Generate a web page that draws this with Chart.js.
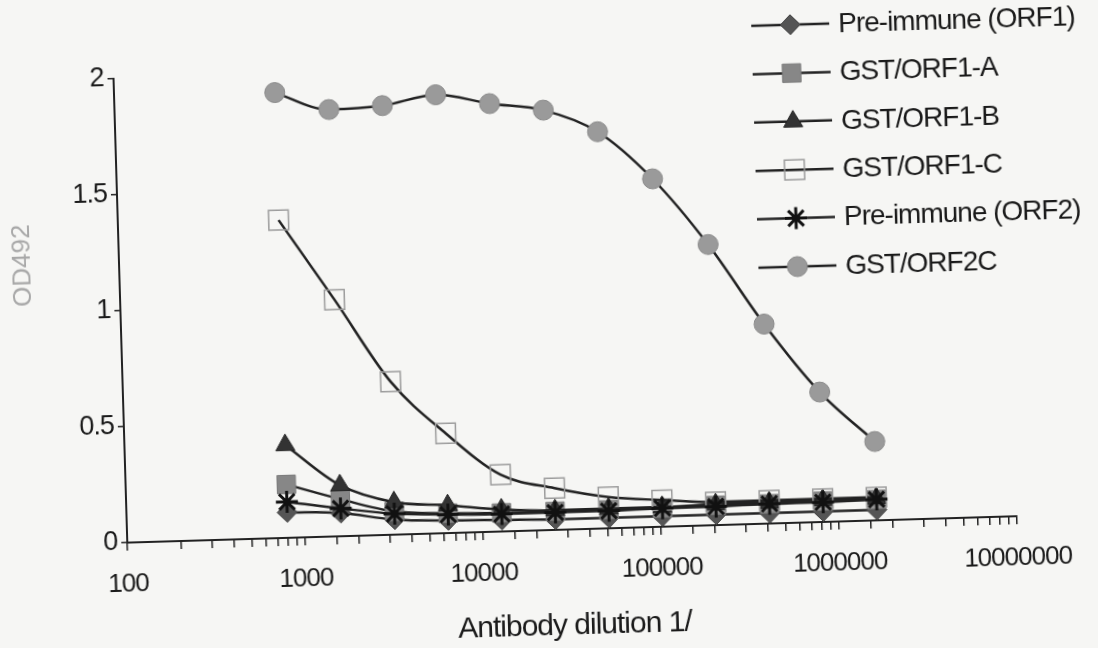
<!DOCTYPE html>
<html>
<head>
<meta charset="utf-8">
<script src="https://cdn.jsdelivr.net/npm/chart.js@4.4.1/dist/chart.umd.min.js"></script>
<style>
  html, body { margin: 0; padding: 0; background: #f6f6f4; overflow: hidden; }
  /* the original is a slightly tilted scan */
  #chart { display: block; transform: rotate(-1.7deg); transform-origin: 549px 324px; }
</style>
</head>
<body>
<canvas id="chart" width="1098" height="648"></canvas>
<script>
// antibody dilution (1/x)
const dilutions = [800, 1600, 3200, 6400, 12800, 25600, 51200, 102400, 204800, 409600, 819200, 1638400];

const seriesNames = ['Pre-immune (ORF1)', 'GST/ORF1-A', 'GST/ORF1-B', 'GST/ORF1-C', 'Pre-immune (ORF2)', 'GST/ORF2C'];

// OD492 readings
const preImmuneOrf1 = [0.11, 0.10, 0.065, 0.055, 0.05, 0.045, 0.045, 0.045, 0.045, 0.045, 0.045, 0.045];
const gstOrf1A = [0.23, 0.16, 0.10, 0.085, 0.08, 0.08, 0.08, 0.08, 0.085, 0.085, 0.09, 0.09];
const gstOrf1B = [0.40, 0.22, 0.14, 0.12, 0.095, 0.085, 0.085, 0.085, 0.09, 0.09, 0.095, 0.095];
const gstOrf1C = [1.37, 1.02, 0.66, 0.43, 0.245, 0.18, 0.135, 0.115, 0.10, 0.10, 0.10, 0.10];
const preImmuneOrf2 = [0.155, 0.12, 0.09, 0.08, 0.075, 0.075, 0.075, 0.08, 0.08, 0.085, 0.085, 0.09];
const gstOrf2C = [1.92, 1.84, 1.85, 1.89, 1.845, 1.81, 1.71, 1.50, 1.21, 0.86, 0.56, 0.34];

const xTickLabels = ['100', '1000', '10000', '100000', '1000000', '10000000'];
const yTickLabels = ['0', '0.5', '1', '1.5', '2'];

const allSeries = [preImmuneOrf1, gstOrf1A, gstOrf1B, gstOrf1C, preImmuneOrf2, gstOrf2C];

// marker look for each series
const markers = [
    { style: 'rectRot', radius: 10, fill: '#555555', stroke: '#454545', width: 1 },
    { style: 'rect', radius: 13, fill: '#878787', stroke: '#7a7a7a', width: 1 },
    { style: 'triangle', radius: 11, fill: '#333333', stroke: '#262626', width: 1 },
    { style: 'rect', radius: 14, fill: 'rgba(0,0,0,0)', stroke: '#9c9c9c', width: 1.5 },
    { style: 'star', radius: 11, fill: '#111111', stroke: '#111111', width: 3 },
    { style: 'circle', radius: 10, fill: '#9a9a9a', stroke: '#8a8a8a', width: 1 }
];

Chart.defaults.font.family = '"Liberation Sans", Arial, sans-serif';
Chart.defaults.color = '#1a1a1a';

const datasets = allSeries.map((values, i) => ({
    label: seriesNames[i],
    data: values.map((v, k) => ({ x: dilutions[k], y: v })),
    borderColor: '#222',
    borderWidth: 2.5,
    cubicInterpolationMode: 'monotone',
    pointStyle: markers[i].style,
    pointRadius: markers[i].radius,
    pointHoverRadius: markers[i].radius,
    pointBackgroundColor: markers[i].fill,
    pointBorderColor: markers[i].stroke,
    pointBorderWidth: markers[i].width,
    order: allSeries.length - i,   // later series drawn on top, like Excel
    fill: false
}));

// the scanned text is set tight
const tightText = {
    id: 'tightText',
    beforeUpdate(chart) { chart.ctx.letterSpacing = '-1px'; },
    beforeDraw(chart) { chart.ctx.letterSpacing = '-1px'; }
};

// legend at the top right, line + marker + text
const sideLegend = {
    id: 'sideLegend',
    afterDraw(chart) {
        const ctx = chart.ctx;
        ctx.save();
        ctx.letterSpacing = '-1px';
        chart.data.datasets.forEach((ds, i) => {
            const y = 32 + i * 48.4;
            ctx.strokeStyle = '#222';
            ctx.lineWidth = 2.5;
            ctx.beginPath();
            ctx.moveTo(760, y);
            ctx.lineTo(838, y);
            ctx.stroke();
            ctx.fillStyle = ds.pointBackgroundColor;
            ctx.strokeStyle = ds.pointBorderColor;
            ctx.lineWidth = ds.pointBorderWidth;
            Chart.helpers.drawPoint(ctx, {
                pointStyle: ds.pointStyle,
                radius: ds.pointRadius,
                rotation: 0,
                borderWidth: ds.pointBorderWidth
            }, 799, y);
            ctx.fillStyle = '#1a1a1a';
            ctx.font = '28px "Liberation Sans"';
            ctx.textAlign = 'left';
            ctx.textBaseline = 'middle';
            ctx.fillText(ds.label, 847, y + 1);
        });
        // y axis title, thin grey in the original
        ctx.letterSpacing = '0px';
        ctx.translate(25, 250);
        ctx.rotate(-Math.PI / 2);
        ctx.fillStyle = '#a8a8a8';
        ctx.font = '26px "Liberation Sans"';
        ctx.textAlign = 'center';
        ctx.textBaseline = 'middle';
        ctx.fillText('OD492', 0, 0);
        ctx.restore();
    }
};

new Chart(document.getElementById('chart'), {
    type: 'line',
    data: { datasets },
    options: {
        responsive: false,
        animation: false,
        layout: { padding: { left: 0, top: 66, right: 87, bottom: 0 } },
        plugins: {
            legend: { display: false },
            tooltip: { enabled: false }
        },
        scales: {
            x: {
                type: 'logarithmic',
                min: 100,
                max: 10000000,
                afterFit: (scale) => { scale.height = 118; },
                border: { display: true, color: '#222', width: 2 },
                grid: { drawOnChartArea: false, drawTicks: true, tickLength: 8, color: '#222', lineWidth: 1.5 },
                ticks: {
                    autoSkip: false,
                    maxRotation: 0,
                    padding: 18,
                    font: { size: 26 },
                    callback: (value) => {
                        const s = String(value);
                        return xTickLabels.includes(s) ? s : '';
                    }
                },
                title: {
                    display: true,
                    text: 'Antibody dilution 1/',
                    font: { size: 30 },
                    padding: { top: 4, bottom: 3 }
                }
            },
            y: {
                min: 0,
                max: 2,
                afterFit: (scale) => { scale.width = 121; },
                border: { display: true, color: '#222', width: 2 },
                grid: { drawOnChartArea: false, drawTicks: true, tickLength: 6, color: '#222', lineWidth: 1.5 },
                ticks: {
                    stepSize: 0.5,
                    padding: 4,
                    font: { size: 27 },
                    callback: (value, idx) => yTickLabels[idx]
                }
            }
        }
    },
    plugins: [tightText, sideLegend]
});
</script>
</body>
</html>
